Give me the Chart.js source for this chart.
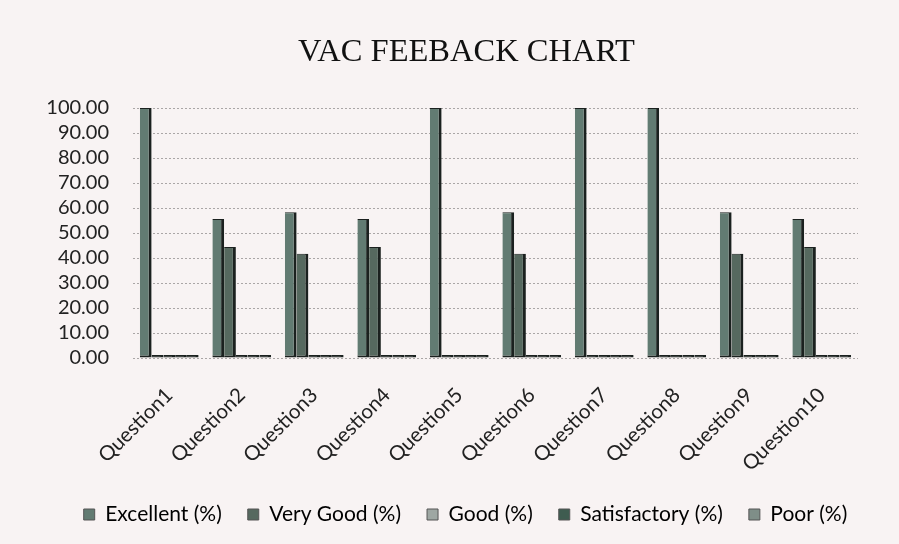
<!DOCTYPE html>
<html>
<head>
<meta charset="utf-8">
<script src="https://cdn.jsdelivr.net/npm/chart.js@4"></script>
<style>
  html, body { margin: 0; padding: 0; background: #f8f3f3; }
  #wrap { width: 899px; height: 544px; position: relative; }
  canvas { display: block; }
</style>
</head>
<body>
<div id="wrap"><canvas id="c" width="899" height="544"></canvas></div>
<script>
// Feedback percentages per question
const questions = ['Question1','Question2','Question3','Question4','Question5',
                   'Question6','Question7','Question8','Question9','Question10'];
const excellent    = [100, 55.56, 58.33, 55.56, 100, 58.33, 100, 100, 58.33, 55.56];
const veryGood     = [0, 44.44, 41.67, 44.44, 0, 41.67, 0, 0, 41.67, 44.44];
const good         = [0, 0, 0, 0, 0, 0, 0, 0, 0, 0];
const satisfactory = [0, 0, 0, 0, 0, 0, 0, 0, 0, 0];
const poor         = [0, 0, 0, 0, 0, 0, 0, 0, 0, 0];
const yTicks = [0, 10, 20, 30, 40, 50, 60, 70, 80, 90, 100];

const seriesNames  = ['Excellent (%)', 'Very Good (%)', 'Good (%)', 'Satisfactory (%)', 'Poor (%)'];
const seriesData   = [excellent, veryGood, good, satisfactory, poor];
const seriesColors = ['#627b72', '#56695f', '#9ea7a3', '#3f5c50', '#7f8e88'];
const edgeColor = '#1b211f';

const datasets = seriesData.map((d, i) => ({
  label: seriesNames[i],
  data: d,
  // empty columns show only as a dark floor strip
  backgroundColor: ctx => (ctx.raw === 0 ? edgeColor : seriesColors[i]),
  borderColor: edgeColor,
  borderWidth: { top: 1, right: 3, bottom: 2, left: 0 },
  borderSkipped: false,
  minBarLength: 3,
  barPercentage: 1.0,
  categoryPercentage: 0.81
}));

const uiFont = 'Lato, "Open Sans", sans-serif';

// Centre title and legend on the whole frame rather than the padded area
const recentre = {
  id: 'recentre',
  afterLayout(chart) {
    if (chart.titleBlock) { chart.titleBlock.left += 19; chart.titleBlock.right += 19; }
    if (chart.legend) { chart.legend.left += 18; chart.legend.right += 18; }
  }
};

new Chart(document.getElementById('c'), {
  type: 'bar',
  data: { labels: questions, datasets },
  plugins: [recentre],
  options: {
    responsive: false,
    animation: false,
    devicePixelRatio: 1,
    layout: { padding: { left: 37, right: 41, top: 0, bottom: 9 } },
    plugins: {
      title: {
        display: true,
        text: 'VAC FEEBACK CHART',
        color: '#111',
        font: { family: '"Liberation Serif", "Times New Roman", serif', size: 32.5, weight: 'normal', lineHeight: 1.2 },
        padding: { top: 33, bottom: 36 }
      },
      legend: {
        position: 'bottom',
        labels: {
          color: '#222',
          font: { family: uiFont, size: 21 },
          boxWidth: 11, boxHeight: 11,
          padding: 26,
          generateLabels: chart => chart.data.datasets.map((ds, i) => ({
            text: ds.label,
            fillStyle: seriesColors[i],
            strokeStyle: '#555',
            lineWidth: 1,
            hidden: false,
            datasetIndex: i
          }))
        }
      },
      tooltip: { enabled: false }
    },
    scales: {
      x: {
        grid: { display: false },
        border: { display: false },
        ticks: {
          color: '#222',
          font: { family: uiFont, size: 20.5 },
          maxRotation: 45, minRotation: 45,
          autoSkip: false,
          padding: 17
        },
        afterFit: s => { s.height = 120; }
      },
      y: {
        min: 0, max: 100,
        afterBuildTicks: s => { s.ticks = yTicks.map(v => ({ value: v })); },
        grid: { color: '#aaa6a6', lineWidth: 1, drawTicks: false },
        border: { display: false, dash: [2, 2] },
        ticks: {
          color: '#222',
          font: { family: uiFont, size: 20 },
          autoSkip: false,
          padding: 24,
          callback: v => Number(v).toFixed(2)
        },
        afterFit: s => { s.width = 96; }
      }
    }
  }
});
</script>
</body>
</html>
